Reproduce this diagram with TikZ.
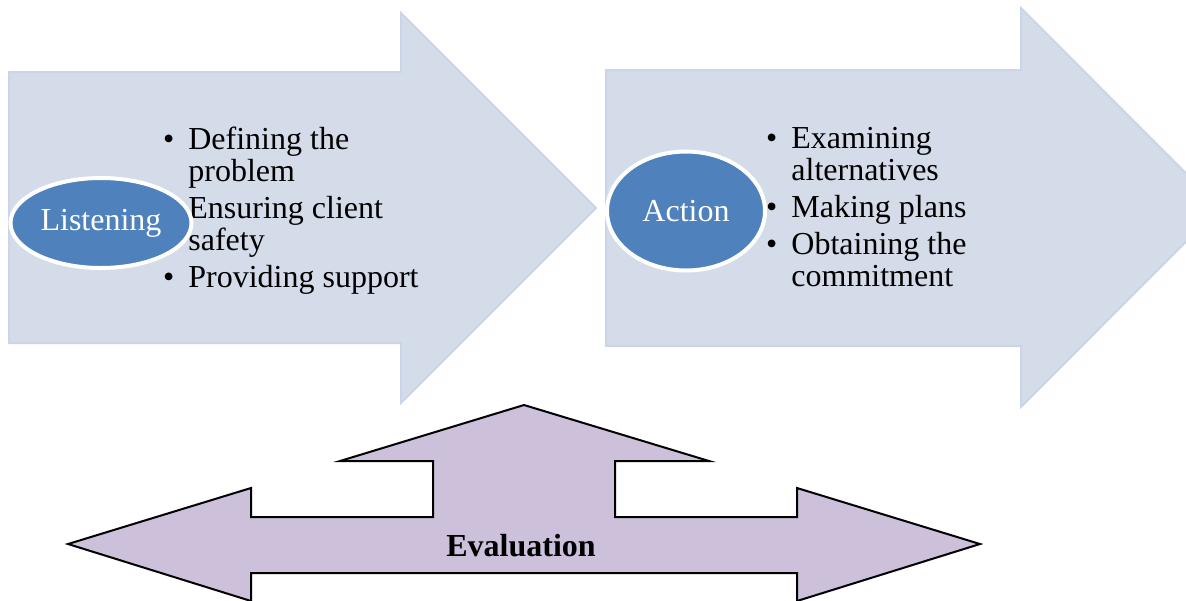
\documentclass[tikz,border=0pt]{standalone}
\usepackage{fontspec}
\setmainfont{Liberation Serif}
\usepackage{tikz}
\usetikzlibrary{shapes.geometric}
\definecolor{chevfill}{HTML}{D4DCEA}
\definecolor{chevline}{HTML}{CCD5E7}
\definecolor{bubblefill}{HTML}{4F81BD}
\definecolor{evalfill}{HTML}{CCC0DA}
\tikzstyle{chevron} = [fill=chevfill, draw=chevline, line width=1pt]
\tikzstyle{bubble} = [ellipse, fill=bubblefill, draw=white, line width=2pt, text=white, inner sep=0pt, font=\fontsize{16}{16}\selectfont]
\tikzstyle{itemtext} = [anchor=base west, align=left, inner sep=0pt, font=\fontsize{16}{16}\selectfont]
\tikzstyle{evalarrow} = [fill=evalfill, draw=black, line width=1pt, line join=miter]
\newcommand{\bul}{\llap{\textbullet\hspace{7pt}}}

\begin{document}
\begin{tikzpicture}[x=0.5pt, y=-0.5pt]
\clip (0,0) rectangle (1186,600);
\useasboundingbox (0,0) rectangle (1186,600);

%the two big chevrons
\draw[chevron] (9,72) -- (401,72) -- (401,13) -- (596,208) -- (401,403) -- (401,343) -- (9,343) -- cycle;
\draw[chevron] (606,70) -- (1021,70) -- (1021,8) -- (1220,207.5) -- (1021,407) -- (1021,346) -- (606,346) -- cycle;

%anchor sits on the last line
\node[itemtext] (listitems) at (188,287) {\bul Defining the\\problem\\[2.5pt]\bul Ensuring client\\safety\\[2.5pt]\bul Providing support};
\node[itemtext] (actitems) at (791,286) {\bul Examining\\alternatives\\[2.5pt]\bul Making plans\\[2.5pt]\bul Obtaining the\\commitment};

%ellipses go on top of the lists
\node[bubble, minimum width=90.5pt, minimum height=45pt] (listen) at (101,223) {Listening};
\node[bubble, minimum width=79pt, minimum height=59.5pt] (act) at (686,211) {Action};

%three way arrow at the bottom
\draw[evalarrow] (524,405) -- (709,461) -- (615,461) -- (615,517) -- (797,517) -- (797,488) -- (980,544) -- (797,601) -- (797,573) -- (251,573) -- (251,601) -- (68,544) -- (251,488) -- (251,517) -- (433,517) -- (433,461) -- (340,461) -- cycle;
\node[font=\bfseries\fontsize{16}{16}\selectfont] (eval) at (521,546) {Evaluation};

\end{tikzpicture}
\end{document}
